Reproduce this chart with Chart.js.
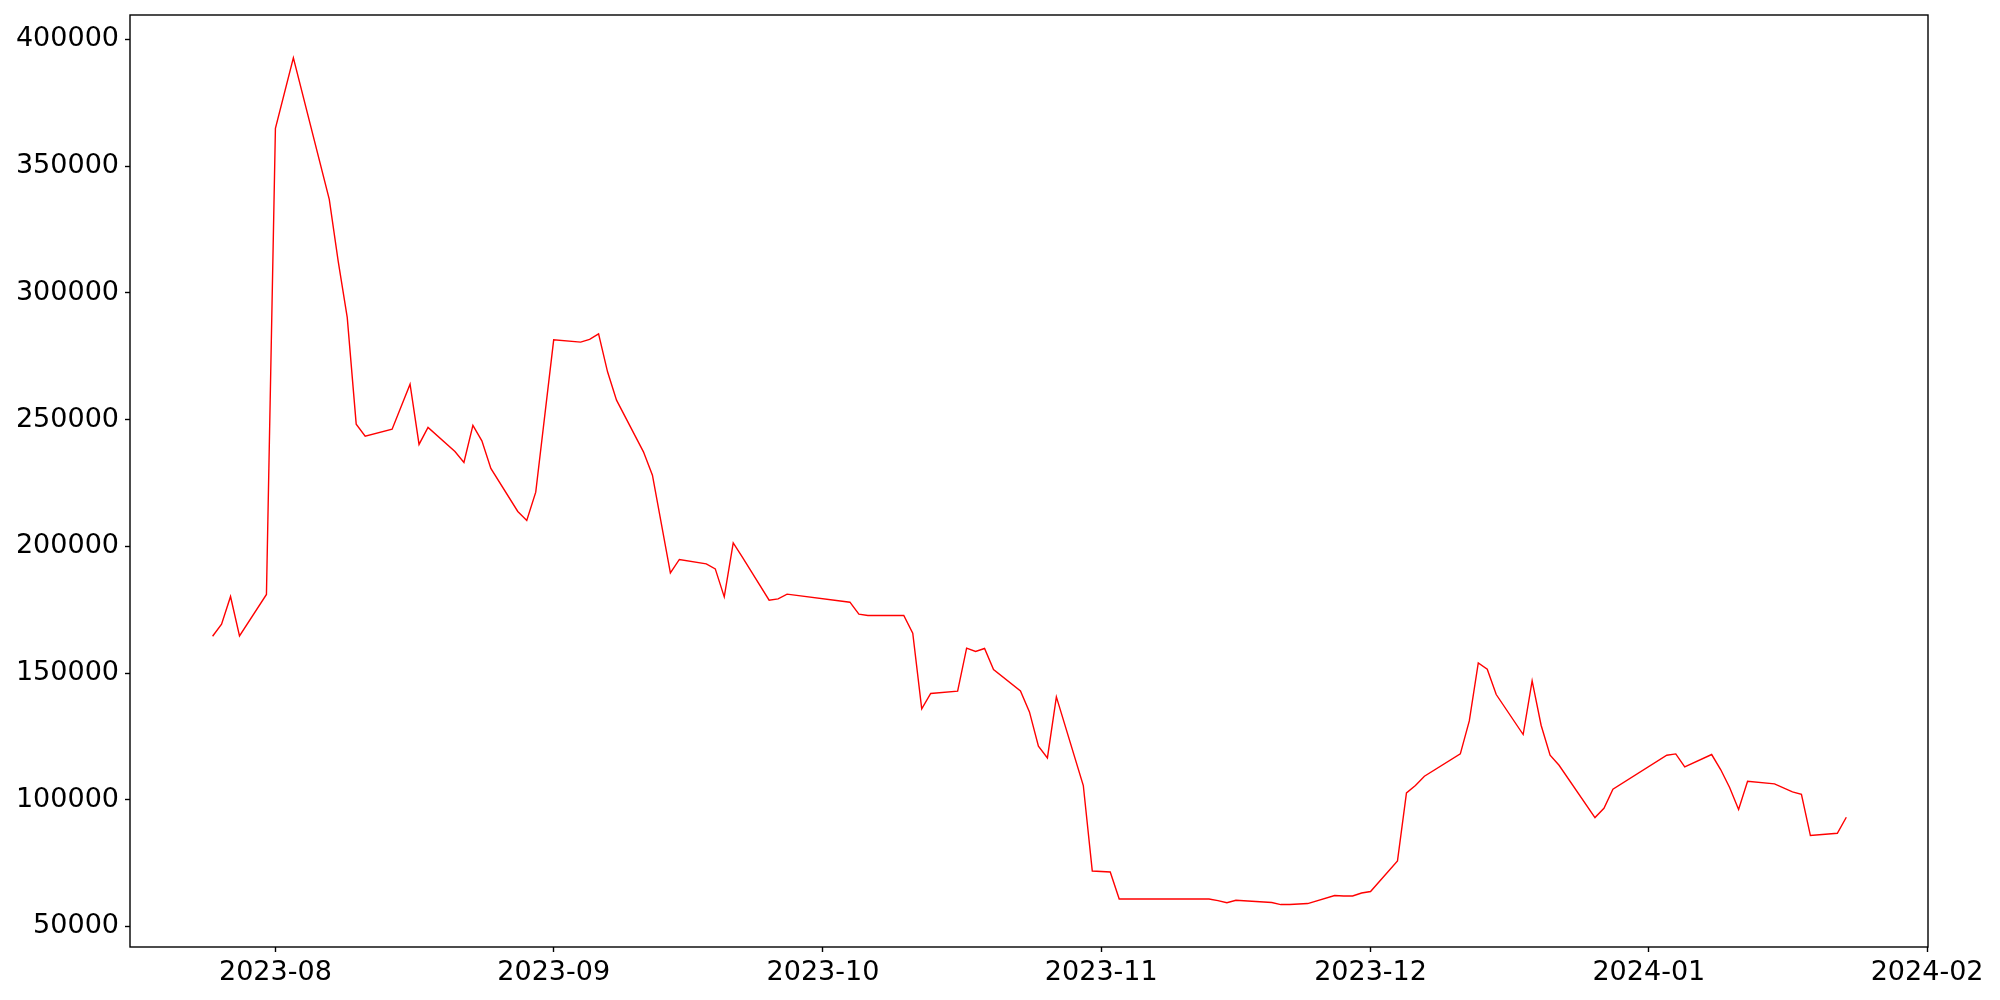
<!DOCTYPE html>
<html>
<head>
<meta charset="utf-8">
<script src="https://cdn.jsdelivr.net/npm/chart.js@4.4.0/dist/chart.umd.min.js"></script>
<style>
html, body { margin: 0; padding: 0; background: #fff; }
canvas { display: block; }
</style>
</head>
<body>
<canvas id="chart" width="2000" height="1000"></canvas>
<script>
// values
const dates = [
    '2023-07-25', '2023-07-26', '2023-07-27', '2023-07-28', '2023-07-31',
    '2023-08-01', '2023-08-03', '2023-08-07', '2023-08-08', '2023-08-09',
    '2023-08-10', '2023-08-11', '2023-08-14', '2023-08-16', '2023-08-17',
    '2023-08-18', '2023-08-21', '2023-08-22', '2023-08-23', '2023-08-24',
    '2023-08-25', '2023-08-28', '2023-08-29', '2023-08-30', '2023-09-01',
    '2023-09-04', '2023-09-05', '2023-09-06', '2023-09-07', '2023-09-08',
    '2023-09-11', '2023-09-12', '2023-09-14', '2023-09-15', '2023-09-18',
    '2023-09-19', '2023-09-20', '2023-09-21', '2023-09-22', '2023-09-25',
    '2023-09-26', '2023-09-27', '2023-10-04', '2023-10-05', '2023-10-06',
    '2023-10-10', '2023-10-11', '2023-10-12', '2023-10-13', '2023-10-16',
    '2023-10-17', '2023-10-18', '2023-10-19', '2023-10-20', '2023-10-23',
    '2023-10-24', '2023-10-25', '2023-10-26', '2023-10-27', '2023-10-30',
    '2023-10-31', '2023-11-02', '2023-11-03', '2023-11-13', '2023-11-14',
    '2023-11-15', '2023-11-16', '2023-11-20', '2023-11-21', '2023-11-22',
    '2023-11-24', '2023-11-27', '2023-11-28', '2023-11-29', '2023-11-30',
    '2023-12-01', '2023-12-04', '2023-12-05', '2023-12-06', '2023-12-07',
    '2023-12-11', '2023-12-12', '2023-12-13', '2023-12-14', '2023-12-15',
    '2023-12-18', '2023-12-19', '2023-12-20', '2023-12-21', '2023-12-22',
    '2023-12-26', '2023-12-27', '2023-12-28', '2024-01-03', '2024-01-04',
    '2024-01-05', '2024-01-08', '2024-01-09', '2024-01-10', '2024-01-11',
    '2024-01-12', '2024-01-15', '2024-01-17', '2024-01-18', '2024-01-19',
    '2024-01-22', '2024-01-23'
];
const values = [
    164500, 169260, 180190, 164650, 180980,
    364880, 392740, 336860, 312300, 290300,
    248190, 243450, 246200, 263970, 240170,
    246880, 237410, 233070, 247670, 241590,
    230700, 213730, 210180, 221350, 281450,
    280540, 281600, 283820, 268820, 257660,
    237250, 228060, 189500, 194790, 193050,
    191080, 180030, 201340, 195820, 178730,
    179240, 181100, 177940, 173200, 172690,
    172690, 165700, 135830, 141910, 142820,
    159790, 158480, 159670, 151380, 142940,
    134650, 121110, 116500, 140570, 105600,
    71900, 71510, 60850, 60850, 60200,
    59350, 60340, 59430, 58640, 58640,
    59040, 62190, 62050, 62050, 63220,
    63770, 75850, 102680, 105600, 109270,
    118075, 131100, 153990, 151500, 141510,
    125730, 146880, 129400, 117560, 113600,
    92980, 96600, 104140, 117560, 118080,
    112950, 117840, 111920, 104810, 96130,
    107300, 106240, 103080, 102170, 85870,
    86780, 93090
];
const monthTicks = ['2023-08', '2023-09', '2023-10', '2023-11', '2023-12', '2024-01', '2024-02'];
const yTicks = [50000, 100000, 150000, 200000, 250000, 300000, 350000, 400000];

const DAY = 86400000;
const toTime = s => {
    const p = s.split('-').map(Number);
    return Date.UTC(p[0], p[1] - 1, p[2] || 1);
};
const pad2 = n => String(n).padStart(2, '0');

const points = dates.map((d, i) => ({ x: toTime(d), y: values[i] }));

// frame round the plot area, like matplotlib spines
const framePlugin = {
    id: 'frame',
    afterDraw(chart) {
        const { ctx, chartArea: a } = chart;
        ctx.save();
        ctx.strokeStyle = '#000';
        ctx.lineWidth = 1.4;
        ctx.strokeRect(a.left, a.top, a.right - a.left, a.bottom - a.top);
        ctx.restore();
    }
};

const tickFont = { family: 'DejaVu Sans', size: 27 };

new Chart(document.getElementById('chart'), {
    type: 'line',
    data: {
        datasets: [{
            data: points,
            borderColor: '#ff0000',
            borderWidth: 1.4,
            pointRadius: 0,
            tension: 0,
            fill: false
        }]
    },
    options: {
        responsive: false,
        animation: false,
        devicePixelRatio: 1,
        layout: { padding: { top: 15, right: 72, left: 0, bottom: 0 } },
        plugins: {
            legend: { display: false },
            tooltip: { enabled: false }
        },
        scales: {
            x: {
                type: 'linear',
                min: toTime('2023-08-01') - 16.2 * DAY,
                max: toTime('2024-02-01') + 0.1 * DAY,
                afterBuildTicks: scale => {
                    scale.ticks = monthTicks.map(m => ({ value: toTime(m) }));
                },
                afterFit: scale => {
                    scale.height = 53;
                    scale.paddingLeft = 0;
                    scale.paddingRight = 0;
                },
                grid: {
                    drawOnChartArea: false,
                    drawTicks: true,
                    tickLength: 5,
                    tickColor: '#000',
                    tickWidth: 1.4
                },
                border: { display: false },
                ticks: {
                    autoSkip: false,
                    maxRotation: 0,
                    padding: 5,
                    color: '#000',
                    font: tickFont,
                    callback: v => {
                        const d = new Date(v);
                        return d.getUTCFullYear() + '-' + pad2(d.getUTCMonth() + 1);
                    }
                }
            },
            y: {
                type: 'linear',
                min: 41900,
                max: 409600,
                afterBuildTicks: scale => {
                    scale.ticks = yTicks.map(v => ({ value: v }));
                },
                afterFit: scale => {
                    scale.width = 130;
                    scale.paddingTop = 0;
                    scale.paddingBottom = 0;
                },
                grid: {
                    drawOnChartArea: false,
                    drawTicks: true,
                    tickLength: 5,
                    tickColor: '#000',
                    tickWidth: 1.4
                },
                border: { display: false },
                ticks: {
                    padding: 6,
                    color: '#000',
                    font: tickFont,
                    callback: v => String(v)
                }
            }
        }
    },
    plugins: [framePlugin]
});
</script>
</body>
</html>
